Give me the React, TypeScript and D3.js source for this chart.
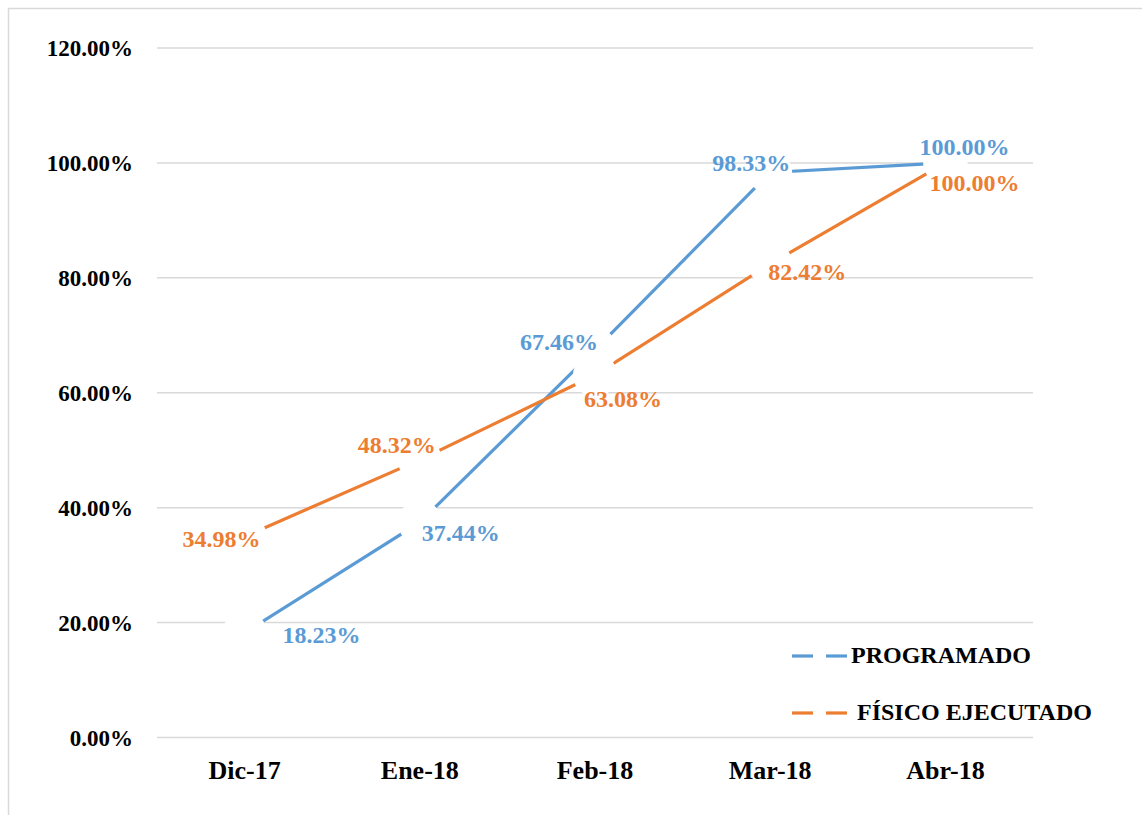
import * as d3 from 'd3';
import React from 'react';

// chart data
const months = ['Dic-17', 'Ene-18', 'Feb-18', 'Mar-18', 'Abr-18'];
const programado = [18.23, 37.44, 67.46, 98.33, 100.0];
const fisico = [34.98, 48.32, 63.08, 82.42, 100.0];
const yTicks = [0, 20, 40, 60, 80, 100, 120];

// label nudges (px) relative to each point, as placed in the original
const progLabelShift = [[77, 2], [41, 10], [-36, -8], [-19, -10], [19, -16]];
const fisLabelShift = [[-23, 2], [-23, -15], [28, 24], [37, 8], [29, 20]];

const W = 1142;
const H = 815;
const font = '"Liberation Serif", "Times New Roman", serif';
const BLUE = '#5B9BD5';
const ORANGE = '#ED7D31';
const GRID = '#D9D9D9';

export default function App() {
  const x = d3.scaleBand().domain(months).range([157, 1033]);
  const y = d3.scaleLinear().domain([0, 120]).range([737.5, 48]);
  const cx = (m: string) => (x(m) as number) + x.bandwidth() / 2;

  const line = d3.line<number>()
    .x((d, i) => cx(months[i]))
    .y(d => y(d));

  const series = [
    { name: 'PROGRAMADO', values: programado, color: BLUE, shift: progLabelShift },
    { name: 'FÍSICO EJECUTADO', values: fisico, color: ORANGE, shift: fisLabelShift },
  ];

  return (
    <svg width={W} height={H} style={{ position: 'absolute', left: 0, top: 0, background: '#fff' }}
      fontFamily={font} fontWeight="bold">
      <line x1={8} y1={8.5} x2={W} y2={8.5} stroke={GRID} strokeWidth={1.5} />
      <line x1={8.5} y1={8} x2={8.5} y2={H} stroke={GRID} strokeWidth={1.5} />

      {yTicks.map(t => (
        <g key={t}>
          <line x1={157} x2={1033} y1={y(t)} y2={y(t)} stroke={GRID} strokeWidth={1.5} />
          <text x={133} y={y(t)} dy="0.35em" textAnchor="end" fontSize={23} fill="#000">
            {t.toFixed(2)}%
          </text>
        </g>
      ))}

      {months.map(m => (
        <text key={m} x={cx(m)} y={770} dy="0.35em" textAnchor="middle" fontSize={26} fill="#000">{m}</text>
      ))}

      {series.map(s => (
        <path key={s.name} d={line(s.values) || ''} fill="none" stroke={s.color} strokeWidth={3.2} />
      ))}

      {series.map(s => s.values.map((v, i) => (
        <circle key={s.name + i} cx={cx(months[i])} cy={y(v)} r={22} fill="#fff" />
      )))}

      {series.map(s => s.values.map((v, i) => (
        <text key={'l' + s.name + i} x={cx(months[i]) + s.shift[i][0]} y={y(v) + s.shift[i][1]}
          dy="0.35em" textAnchor="middle" fontSize={24} fill={s.color}>
          {v.toFixed(2)}%
        </text>
      )))}

      {series.map((s, i) => {
        const ly = [656, 713][i];
        return (
          <g key={'lg' + s.name}>
            <line x1={792} x2={813} y1={ly} y2={ly} stroke={s.color} strokeWidth={3.2} />
            <line x1={826} x2={847} y1={ly} y2={ly} stroke={s.color} strokeWidth={3.2} />
            <text x={i === 0 ? 851 : 857} y={ly - 1} dy="0.35em" fontSize={24} fill="#000">{s.name}</text>
          </g>
        );
      })}
    </svg>
  );
}
